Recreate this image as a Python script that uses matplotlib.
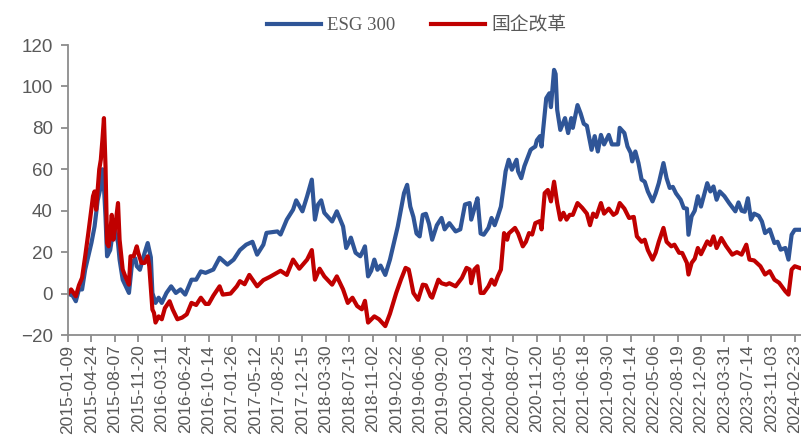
import matplotlib
matplotlib.use("Agg")
import matplotlib.pyplot as plt

# weekly index (0 = 2015-01-09) and cumulative return (%) read at turning points
esg_week = [0, 3, 5, 7, 9, 11, 15, 17, 19, 21, 22, 23, 24, 25, 27, 28, 30, 32, 33, 35,
            37, 39, 41, 43, 44, 46, 49, 51, 53, 54, 56, 58, 60, 63, 66, 69, 72, 75, 79, 82,
            85, 88, 93, 97, 102, 106, 110, 114, 118, 121, 125, 127, 134, 136, 140, 144, 146, 150, 153, 156,
            158, 160, 162, 164, 169, 172, 174, 176, 178, 180, 181, 184, 187, 189, 190, 192, 194, 196, 198, 200,
            203, 206, 209, 211, 213, 215, 217, 219, 221, 223, 225, 227, 229, 231, 233, 236, 239, 241, 244, 248,
            251, 254, 257, 258, 260, 262, 264, 266, 269, 271, 273, 275, 277, 279, 280, 282, 284, 287, 288, 290,
            292, 294, 296, 297, 299, 300, 302, 303, 304, 306, 308, 309, 311, 312, 313, 315, 318, 320, 322, 323,
            326, 328, 330, 332, 335, 337, 339, 341, 343, 346, 348, 352, 353, 356, 358, 360, 361, 363, 365, 367,
            369, 371, 374, 376, 378, 381, 383, 385, 387, 389, 392, 394, 396, 397, 399, 401, 403, 405, 409, 411,
            413, 415, 417, 420, 423, 427, 429, 431, 433, 435, 437, 439, 442, 444, 446, 449, 452, 454, 456, 459,
            461, 463, 465, 468]
esg_val = [0, -1, -3.7, 2, 2, 11.6, 24.5, 32.4, 45, 51.7, 60, 51.7, 37, 18, 21, 26, 31, 24.5, 16.4, 6.7,
           3.5, 0.3, 14.8, 17, 13.2, 11.5, 19.6, 24.4, 17.5, 0.3, -4.5, -2, -4.5, 0.3, 3.5, 0.3, 2, -0.5, 6.7, 6.7,
           10.7, 10, 11.6, 17.3, 14, 16.4, 21, 23.6, 25, 18.8, 23.6, 29.3, 30, 28.5, 35.7, 40.5, 45, 39.7, 47, 55,
           35.7, 43, 45, 39, 34.8, 39.7, 36, 32.4, 22, 25, 27, 19.7, 18, 21, 22.8, 8.3, 11, 16.4, 11.5, 13.5,
           9, 16.4, 26, 32.4, 40.5, 48.5, 52.5, 42, 37, 29, 27.6, 38, 38.5, 33.7, 26, 33, 36.5, 31, 34, 30,
           31, 43, 43.7, 35.7, 41, 46, 29, 28.4, 31.7, 36.5, 33, 37.3, 42, 53, 59, 64.6, 59.8, 64.6, 59, 55.7,
           61.5, 65.5, 69.4, 70, 71, 74, 76, 71, 79, 94.3, 96.7, 90, 108, 106, 88.7, 79, 84.7, 77.5, 84.7, 80,
           91, 87, 82, 81, 69.4, 76, 68.6, 76.6, 72, 76.6, 72, 72, 80, 77.5, 71, 68, 63.8, 68.6, 63, 55,
           54, 49.3, 44.5, 48.4, 53.3, 63, 55.7, 51, 51.5, 48.4, 45.3, 41.3, 41, 28.4, 37.3, 40, 47, 42, 53.3, 49.3,
           51.7, 45.3, 49.3, 47, 43.7, 39.7, 44, 40, 39.5, 46, 35.7, 38.6, 37.5, 34.8, 29.2, 31, 24.4, 25, 21.2, 22,
           16.4, 28.4, 30.8, 30.8]

soe_week = [0, 2, 5, 7, 9, 11, 13, 16, 17, 18, 20, 21, 22, 23, 24, 25, 26, 27, 28, 29,
            30, 32, 33, 35, 37, 39, 40, 42, 44, 45, 47, 49, 51, 52, 54, 55, 56, 58, 60, 62,
            65, 67, 70, 73, 76, 79, 82, 85, 88, 90, 93, 97, 99, 104, 108, 110, 113, 116, 121, 125,
            129, 136, 140, 144, 148, 153, 156, 158, 161, 164, 169, 172, 176, 179, 182, 185, 188, 190, 192, 196,
            199, 203, 206, 210, 213, 216, 218, 219, 221, 224, 227, 229, 232, 233, 237, 239, 242, 244, 248, 252,
            255, 257, 258, 260, 262, 264, 266, 269, 271, 273, 275, 277, 279, 281, 282, 286, 288, 291, 293, 295,
            297, 299, 302, 303, 305, 307, 309, 311, 313, 315, 317, 319, 321, 323, 326, 329, 332, 334, 336, 338,
            341, 343, 346, 349, 351, 353, 356, 359, 362, 364, 367, 369, 371, 374, 376, 378, 381, 383, 386, 388,
            391, 393, 396, 397, 399, 401, 403, 405, 409, 411, 413, 415, 418, 421, 425, 428, 431, 434, 436, 439,
            443, 446, 449, 452, 455, 459, 461, 463, 465, 468]
soe_val = [0, 2, -1.3, 4, 7.6, 18, 29.2, 47, 49.3, 40.5, 60, 64.6, 74, 84.7, 61.4, 24.4, 22.8, 29.2, 38, 26,
           31, 43.7, 26, 11.6, 7.6, 4.3, 18, 18, 22.8, 19.6, 14.8, 14.8, 18, 13.2, -7.7, -9.3, -14, -11, -12.4, -7,
           -3.7, -7.7, -12.4, -11.6, -10, -4.5, -5.5, -2, -5, -5, -1, 3.5, -0.5, 0, 3.5, 6, 4.5, 9, 3.5, 6.5,
           8, 11, 9, 16.4, 12, 16.4, 21, 6.7, 12, 8.3, 4.3, 8.3, 2, -4.5, -2, -6, -7.6, -3.5, -14, -11,
           -12.4, -15.7, -9.7, 0.3, 6.7, 12.4, 11.6, 8, 0.3, -3, 4.3, 4, -1.3, -2, 6.7, 5, 4.3, 5, 3.5, 7.5,
           12.4, 11.6, 5, 11.6, 13.2, 0.3, 0.3, 3.5, 6.7, 4.3, 8.3, 11.6, 29.2, 26, 29, 31.7, 29, 22.8, 25, 29.2,
           28.5, 34, 35, 31, 48.5, 50, 44.5, 54, 43.7, 35.7, 39, 35.7, 38, 38, 43.7, 41.4, 38.6, 33, 38.6, 37,
           43.7, 38.6, 41, 38, 39, 43.7, 41, 36.5, 37, 27.6, 25, 26, 21, 16.4, 19.7, 25, 31.7, 25, 22.8, 23.6,
           19.7, 19.6, 14.8, 9.2, 14.8, 16.8, 22, 19, 25.2, 23.5, 27.6, 22, 26.8, 23, 18.8, 20, 18.8, 23.6, 16.4, 16,
           13.2, 9.2, 10.8, 6.7, 5.2, 1.1, -0.5, 11.6, 13.2, 12.4]

tick_labels = ["2015-01-09", "2015-04-24", "2015-08-07", "2015-11-20", "2016-03-11", "2016-06-24",
               "2016-10-14", "2017-01-26", "2017-05-12", "2017-08-25", "2017-12-15", "2018-03-30",
               "2018-07-13", "2018-11-02", "2019-02-22", "2019-06-06", "2019-09-20", "2020-01-03",
               "2020-04-24", "2020-08-07", "2020-11-20", "2021-03-05", "2021-06-18", "2021-09-30",
               "2022-01-14", "2022-05-06", "2022-08-19", "2022-12-09", "2023-03-31", "2023-07-14",
               "2023-11-03", "2024-02-23"]
tick_step = 15

grey = "#595959"
axis_grey = "#8c8c8c"

fig = plt.figure(figsize=(8.01, 4.41), dpi=100)
ax = fig.add_axes([68 / 801, 1 - 335 / 441, 1 - 68 / 801, 290 / 441])

ax.plot(esg_week, esg_val, color="#2F5597", lw=3.0, label="ESG 300", solid_joinstyle="round")
ax.plot(soe_week, soe_val, color="#C00000", lw=3.0, label="国企改革", solid_joinstyle="round")

ax.set_xlim(0, 469)
ax.set_ylim(-20, 120)
ax.set_yticks(range(-20, 121, 20))
ax.set_xticks([i * tick_step for i in range(len(tick_labels))])
ax.set_xticklabels(tick_labels, rotation=90)

for lab in ax.get_yticklabels():
    lab.set_family("Liberation Sans")
    lab.set_fontsize(13.5)
    lab.set_color(grey)
for lab in ax.get_xticklabels():
    lab.set_family("Liberation Sans")
    lab.set_fontsize(12.5)
    lab.set_color(grey)

for side in ["top", "right"]:
    ax.spines[side].set_visible(False)
for side in ["left", "bottom"]:
    ax.spines[side].set_color(axis_grey)
    ax.spines[side].set_linewidth(1.3)
ax.tick_params(axis="both", direction="out", length=5, width=1.3, color=axis_grey)
ax.tick_params(axis="x", pad=2)
ax.tick_params(axis="y", pad=6)

fig.legend(loc="upper center", bbox_to_anchor=(0.52, 1.0), ncol=2, frameon=False,
           handlelength=2.9, columnspacing=1.9, handletextpad=0.3,
           prop={"family": ["Liberation Serif", "Noto Sans CJK SC"], "size": 13.5},
           labelcolor=grey)

fig.savefig("out.png", dpi=100)
